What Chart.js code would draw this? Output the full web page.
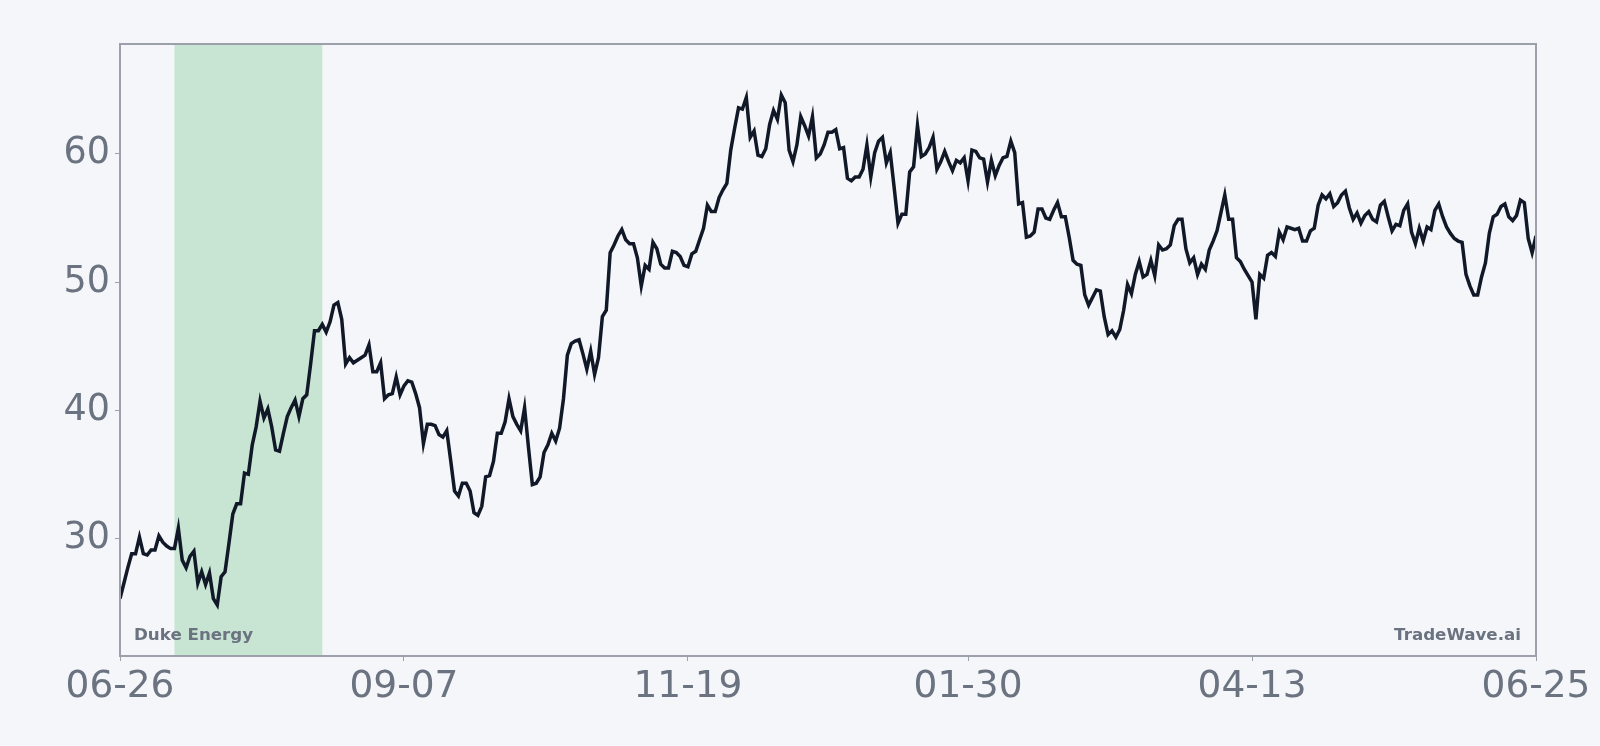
<!DOCTYPE html>
<html>
<head>
<meta charset="utf-8">
<script src="https://cdn.jsdelivr.net/npm/chart.js@4.4.1/dist/chart.umd.min.js"></script>
<style>
  html, body { margin: 0; padding: 0; background: #f4f6f9; }
  #priceChart { display: block; }
</style>
</head>
<body>
<canvas id="priceChart" width="1600" height="746"></canvas>
<script>
// daily closes, day 0 = 06-26, last = 06-25 (364 days later)
const prices = [
  25.3, 26.5, 27.7, 28.8, 28.8, 30.1, 28.8, 28.7, 29.1, 29.1,
  30.2, 29.7, 29.4, 29.2, 29.2, 30.8, 28.3, 27.7, 28.6, 29.0,
  26.5, 27.4, 26.4, 27.3, 25.3, 24.8, 27.0, 27.4, 29.6, 31.9,
  32.7, 32.7, 35.1, 35.0, 37.3, 38.7, 40.7, 39.4, 40.1, 38.7,
  36.9, 36.8, 38.2, 39.5, 40.2, 40.8, 39.5, 40.9, 41.2, 43.6,
  46.2, 46.2, 46.7, 46.1, 46.9, 48.2, 48.4, 47.1, 43.6, 44.1,
  43.7, 43.9, 44.1, 44.3, 45.1, 43.0, 43.0, 43.7, 40.9, 41.2,
  41.3, 42.6, 41.2, 41.9, 42.3, 42.2, 41.3, 40.2, 37.4, 38.9,
  38.9, 38.8, 38.1, 37.9, 38.4, 36.1, 33.7, 33.3, 34.3, 34.3,
  33.7, 32.0, 31.8, 32.5, 34.8, 34.9, 36.0, 38.2, 38.2, 39.1,
  40.9, 39.5, 38.9, 38.4, 40.2, 37.1, 34.2, 34.3, 34.8, 36.7,
  37.3, 38.2, 37.6, 38.6, 40.9, 44.3, 45.2, 45.4, 45.5, 44.4,
  43.2, 44.6, 42.8, 44.1, 47.3, 47.8, 52.3, 52.9, 53.6, 54.1,
  53.3, 53.0, 53.0, 51.9, 49.7, 51.3, 51.0, 53.1, 52.6, 51.4,
  51.1, 51.1, 52.4, 52.3, 52.0, 51.3, 51.2, 52.2, 52.4, 53.3,
  54.2, 56.0, 55.5, 55.5, 56.6, 57.2, 57.7, 60.3, 62.0, 63.6,
  63.5, 64.4, 61.3, 61.8, 59.9, 59.8, 60.4, 62.3, 63.4, 62.7,
  64.6, 64.0, 60.3, 59.4, 60.7, 62.9, 62.2, 61.4, 62.9, 59.7,
  60.0, 60.7, 61.7, 61.7, 61.9, 60.4, 60.5, 58.1, 57.9, 58.2,
  58.2, 58.8, 60.7, 58.2, 60.1, 61.0, 61.3, 59.3, 60.1, 57.4,
  54.6, 55.3, 55.3, 58.6, 59.0, 62.2, 59.8, 60.0, 60.5, 61.3,
  58.8, 59.4, 60.2, 59.4, 58.7, 59.5, 59.3, 59.7, 57.9, 60.3,
  60.2, 59.7, 59.6, 57.8, 59.5, 58.3, 59.1, 59.7, 59.8, 61.0,
  60.1, 56.1, 56.2, 53.5, 53.6, 53.9, 55.7, 55.7, 55.0, 54.9,
  55.6, 56.2, 55.1, 55.1, 53.5, 51.7, 51.4, 51.3, 49.0, 48.2,
  48.8, 49.4, 49.3, 47.3, 45.9, 46.2, 45.7, 46.3, 47.8, 49.8,
  49.1, 50.6, 51.6, 50.4, 50.6, 51.7, 50.5, 52.9, 52.5, 52.6,
  52.9, 54.4, 54.9, 54.9, 52.6, 51.5, 51.9, 50.6, 51.4, 51.0,
  52.5, 53.2, 54.0, 55.4, 56.8, 54.9, 54.9, 51.9, 51.6, 51.0,
  50.5, 50.0, 47.1, 50.6, 50.3, 52.1, 52.3, 52.0, 53.9, 53.3,
  54.3, 54.2, 54.1, 54.2, 53.2, 53.2, 54.0, 54.2, 56.0, 56.8,
  56.5, 56.9, 55.9, 56.2, 56.8, 57.1, 55.8, 54.9, 55.4, 54.6,
  55.2, 55.5, 54.9, 54.7, 56.0, 56.3, 55.1, 54.0, 54.5, 54.4,
  55.6, 56.1, 53.9, 53.0, 54.2, 53.2, 54.3, 54.1, 55.6, 56.1,
  55.1, 54.3, 53.8, 53.4, 53.2, 53.1, 50.6, 49.7, 49.0, 49.0,
  50.4, 51.5, 53.8, 55.1, 55.3, 55.9, 56.1, 55.1, 54.8, 55.2,
  56.4, 56.2, 53.4, 52.3, 53.6
];

const tickDays = [0, 73, 146, 218, 291, 364];
const tickLabels = ['06-26', '09-07', '11-19', '01-30', '04-13', '06-25'];
const yTicks = [30, 40, 50, 60];

// highlighted window (07-10 .. 08-17)
const shadeFrom = 14;
const shadeTo = 52;

const leftNote = 'Duke Energy';
const rightNote = 'TradeWave.ai';

const BG = '#f4f6f9';
const FRAME = '#9ca0ab';
const MUTED = '#6b7280';
const FONT = '"DejaVu Sans", Verdana, sans-serif';

const lo = Math.min(...prices);
const hi = Math.max(...prices);
const pad = (hi - lo) * 0.1;

const decor = {
    id: 'decor',
    beforeDraw(chart) {
        const ctx = chart.ctx;
        ctx.save();
        ctx.fillStyle = BG;
        ctx.fillRect(0, 0, chart.width, chart.height);
        ctx.restore();
    },
    beforeDatasetsDraw(chart) {
        const { ctx, chartArea, scales } = chart;
        const x0 = scales.x.getPixelForValue(shadeFrom);
        const x1 = scales.x.getPixelForValue(shadeTo);
        ctx.save();
        ctx.fillStyle = '#c8e5d4';
        ctx.fillRect(x0, chartArea.top, x1 - x0, chartArea.bottom - chartArea.top);
        ctx.restore();
    },
    afterDatasetsDraw(chart) {
        const { ctx, chartArea } = chart;
        ctx.save();
        ctx.strokeStyle = FRAME;
        ctx.lineWidth = 2;
        ctx.strokeRect(chartArea.left, chartArea.top,
            chartArea.right - chartArea.left, chartArea.bottom - chartArea.top);

        ctx.fillStyle = MUTED;
        ctx.font = 'bold 16.7px ' + FONT;
        ctx.textBaseline = 'alphabetic';
        ctx.textAlign = 'left';
        ctx.fillText(leftNote, chartArea.left + 14, chartArea.bottom - 16);
        ctx.textAlign = 'right';
        ctx.fillText(rightNote, chartArea.right - 15, chartArea.bottom - 16);
        ctx.restore();
    }
};

new Chart(document.getElementById('priceChart'), {
    type: 'line',
    data: {
        datasets: [{
            data: prices.map((p, i) => ({ x: i, y: p })),
            borderColor: '#111827',
            borderWidth: 3.5,
            pointRadius: 0,
            tension: 0,
            fill: false
        }]
    },
    options: {
        responsive: false,
        animation: false,
        devicePixelRatio: 1,
        layout: { padding: { top: 44, right: 64, left: 0, bottom: 0 } },
        plugins: { legend: { display: false }, tooltip: { enabled: false } },
        scales: {
            x: {
                type: 'linear',
                min: 0,
                max: tickDays[tickDays.length - 1],
                afterBuildTicks: (scale) => { scale.ticks = tickDays.map(v => ({ value: v })); },
                afterFit: (scale) => { scale.height = 90; },
                border: { display: false },
                grid: { drawOnChartArea: false, drawTicks: true, tickLength: 5, color: FRAME, lineWidth: 1 },
                ticks: {
                    autoSkip: false,
                    maxRotation: 0,
                    padding: 4,
                    color: MUTED,
                    font: { family: FONT, size: 37.5 }
                    ,
                    callback: (v) => tickLabels[tickDays.indexOf(v)]
                }
            },
            y: {
                min: lo - pad,
                max: hi + pad,
                afterBuildTicks: (scale) => { scale.ticks = yTicks.map(v => ({ value: v })); },
                afterFit: (scale) => { scale.width = 120; },
                border: { display: false },
                grid: { drawOnChartArea: false, drawTicks: true, tickLength: 5, color: FRAME, lineWidth: 1 },
                ticks: {
                    padding: 5,
                    color: MUTED,
                    font: { family: FONT, size: 36.5 }
                }
            }
        }
    },
    plugins: [decor]
});
</script>
</body>
</html>
